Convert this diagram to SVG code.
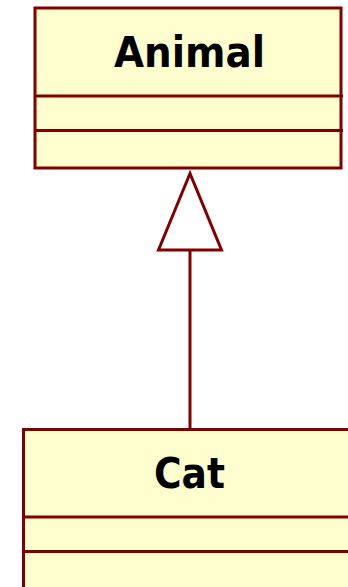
<svg xmlns="http://www.w3.org/2000/svg" width="348" height="587" viewBox="0 0 348 587">
  <style>
    .box { fill: #FEFECE; stroke: #800000; stroke-width: 3; }
    .sep { stroke: #800000; stroke-width: 3; }
    .name { font-family: "DejaVu Sans", Verdana, sans-serif; font-weight: bold; font-size: 42px; fill: #000; text-anchor: middle; }
    .link { fill: none; stroke: #800000; stroke-width: 3; }
    .head { fill: #FFFFFF; stroke: #800000; stroke-width: 3; stroke-linejoin: miter; }
  </style>
  <rect width="348" height="587" fill="#FFFFFF"/>
  <g id="connectors">
    <line class="link" x1="190" y1="250" x2="190" y2="430"/>
    <polygon class="head" points="190,173.5 158.5,250 221.5,250"/>
  </g>
  <g id="Animal">
    <rect class="box" x="35" y="8" width="306" height="160"/>
    <line class="sep" x1="35" y1="96" x2="343" y2="96"/>
    <line class="sep" x1="35" y1="130.5" x2="343" y2="130.5"/>
    <text class="name" x="189.5" y="66.5" textLength="151" lengthAdjust="spacingAndGlyphs">Animal</text>
  </g>
  <g id="Cat">
    <rect class="box" x="23.5" y="429.5" width="340" height="170"/>
    <line class="sep" x1="23.5" y1="517" x2="350" y2="517"/>
    <line class="sep" x1="23.5" y1="551.5" x2="350" y2="551.5"/>
    <text class="name" x="189.5" y="487.5" textLength="71" lengthAdjust="spacingAndGlyphs">Cat</text>
  </g>
</svg>
